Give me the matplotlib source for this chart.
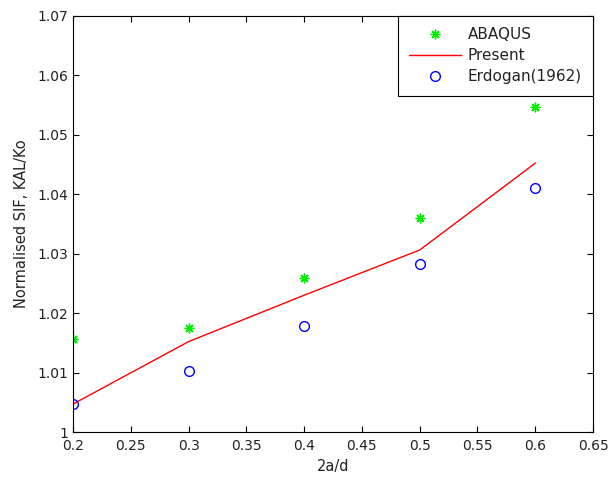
import matplotlib
matplotlib.use("Agg")
import matplotlib.pyplot as plt

x = [0.2, 0.3, 0.4, 0.5, 0.6]
abaqus = [1.0157, 1.0175, 1.0259, 1.0359, 1.0546]
present = [1.0047, 1.0152, 1.0230, 1.0306, 1.0452]
erdogan = [1.00465, 1.0102, 1.0179, 1.0282, 1.0411]
xticks = [0.2, 0.25, 0.3, 0.35, 0.4, 0.45, 0.5, 0.55, 0.6, 0.65]
yticks = [1, 1.01, 1.02, 1.03, 1.04, 1.05, 1.06, 1.07]

plt.rcParams['font.family'] = ['DejaVu Sans']
fig = plt.figure(figsize=(6.1, 4.79), dpi=100)
ax = fig.add_axes([0.1197, 0.0981, 0.8525, 0.8692])

ax.plot(x, abaqus, linestyle='none', marker=(8, 2, 0), color='#00ee00',
        markersize=7, markeredgewidth=1.0, label='ABAQUS')
ax.plot(x, present, color='red', linewidth=1.0, label='Present')
ax.plot(x, erdogan, linestyle='none', marker='o', markerfacecolor='none',
        markeredgecolor='blue', markersize=7, markeredgewidth=1.0, label='Erdogan(1962)')

ax.set_xlim(0.2, 0.65)
ax.set_ylim(1.0, 1.07)
ax.set_xticks(xticks)
ax.set_xticklabels([f"{v:g}" for v in xticks])
ax.set_yticks(yticks)
ax.set_yticklabels([f"{v:g}" for v in yticks])
ax.tick_params(direction='in', top=True, right=True, length=4, labelsize=10,
               width=0.8, labelcolor='#222222')
ax.tick_params(axis='x', pad=5)
for s in ax.spines.values():
    s.set_linewidth(0.8)
ax.set_xlabel('2a/d', fontsize=10.5, labelpad=4, color='#222222')
ax.set_ylabel('Normalised SIF, KAL/Ko', fontsize=10.5, labelpad=6, color='#222222')

leg = ax.legend(loc='upper right', fontsize=11, fancybox=False, framealpha=1,
                edgecolor='black', borderaxespad=0, handlelength=3.4,
                handletextpad=0.4, borderpad=0.75, labelspacing=0.4,
                labelcolor='#222222')
leg.get_frame().set_linewidth(0.8)

fig.savefig('out.png', dpi=100)
